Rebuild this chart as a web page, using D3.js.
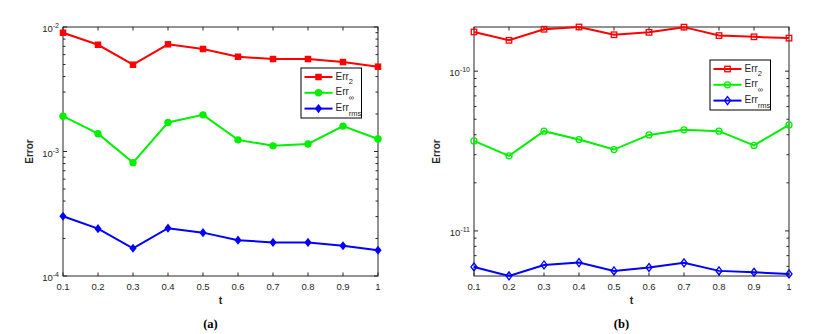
<!DOCTYPE html>
<html>
<head>
<meta charset="utf-8">
<script src="https://cdn.jsdelivr.net/npm/d3@7"></script>
<style>
  body { margin: 0; background: #fff; }
  svg { display: block; font-family: "Liberation Sans", Arial, sans-serif; }
</style>
</head>
<body>
<div id="chart"></div>
<script>
// time steps and tick labels
const tValues = [0.1, 0.2, 0.3, 0.4, 0.5, 0.6, 0.7, 0.8, 0.9, 1.0];
const xTickLabels = ["0.1", "0.2", "0.3", "0.4", "0.5", "0.6", "0.7", "0.8", "0.9", "1"];

// panel (a)
const errL2A  = [0.0090, 0.0072, 0.00498, 0.00726, 0.00666, 0.00577, 0.00553, 0.00553, 0.00523, 0.0048];
const errInfA = [0.00192, 0.00139, 0.000814, 0.00171, 0.00197, 0.00124, 0.00111, 0.00115, 0.0016, 0.00126];
const errRmsA = [0.000302, 0.00024, 0.000167, 0.000242, 0.000223, 0.000194, 0.000186, 0.000186, 0.000175, 0.000161];
const yTicksA = [1e-4, 1e-3, 1e-2];
const yTickExpA = ["-4", "-3", "-2"];

// panel (b)
const errL2B  = [1.76e-10, 1.56e-10, 1.83e-10, 1.89e-10, 1.69e-10, 1.75e-10, 1.886e-10, 1.67e-10, 1.64e-10, 1.61e-10];
const errInfB = [3.66e-11, 2.95e-11, 4.21e-11, 3.73e-11, 3.23e-11, 3.99e-11, 4.29e-11, 4.21e-11, 3.43e-11, 4.61e-11];
const errRmsB = [5.95e-12, 5.23e-12, 6.12e-12, 6.33e-12, 5.62e-12, 5.90e-12, 6.31e-12, 5.62e-12, 5.51e-12, 5.38e-12];
const yTicksB = [1e-11, 1e-10];
const yTickExpB = ["-11", "-10"];

const seriesNames = [
  { base: "Err", sub: "2" },
  { base: "Err", sub: "\u221E" },
  { base: "Err", sub: "rms" }
];
const seriesColors = ["#ff0000", "#00f000", "#0000ff"];
const seriesShapes = ["square", "circle", "diamond"];

const svgWidth = 814, svgHeight = 334;
const axisColor = "#262626";

const svg = d3.select("#chart").append("svg")
  .attr("width", svgWidth)
  .attr("height", svgHeight);

const panels = [
  { left: 63, right: 378, top: 27, bottom: 276, domain: [1e-4, 1e-2],
    majors: yTicksA, exps: yTickExpA, data: [errL2A, errInfA, errRmsA],
    filled: true, legend: { x: 301, y: 68 }, yLabelX: 33, caption: "(a)" },
  { left: 474, right: 789, top: 27, bottom: 276, domain: [5.22e-12, 1.89e-10],
    majors: yTicksB, exps: yTickExpB, data: [errL2B, errInfB, errRmsB],
    filled: false, legend: { x: 710, y: 60 }, yLabelX: 440, caption: "(b)" }
];

function drawMarker(g, shape, x, y, color, filled) {
  const sw = filled ? 0 : 1.3;
  const fill = filled ? color : "none";
  if (shape === "square") {
    const s = filled ? 6.5 : 5.5;
    g.append("rect").attr("x", x - s / 2).attr("y", y - s / 2)
      .attr("width", s).attr("height", s)
      .attr("fill", fill).attr("stroke", color).attr("stroke-width", sw);
  } else if (shape === "circle") {
    g.append("circle").attr("cx", x).attr("cy", y).attr("r", filled ? 3.7 : 3)
      .attr("fill", fill).attr("stroke", color).attr("stroke-width", sw);
  } else {
    const w = filled ? 3.6 : 3, h = filled ? 4.6 : 4;
    g.append("path")
      .attr("d", `M${x},${y - h}L${x + w},${y}L${x},${y + h}L${x - w},${y}Z`)
      .attr("fill", fill).attr("stroke", color).attr("stroke-width", sw);
  }
}

panels.forEach(p => {
  const xScale = d3.scaleLinear().domain([0.1, 1]).range([p.left, p.right]);
  const yScale = d3.scaleLog().domain(p.domain).range([p.bottom, p.top]);
  const g = svg.append("g");

  // box
  g.append("rect")
    .attr("x", p.left).attr("y", p.top)
    .attr("width", p.right - p.left).attr("height", p.bottom - p.top)
    .attr("fill", "none").attr("stroke", axisColor).attr("stroke-width", 1);

  // x ticks, inward on bottom and top
  tValues.forEach((t, i) => {
    const x = xScale(t);
    g.append("line").attr("x1", x).attr("x2", x).attr("y1", p.bottom).attr("y2", p.bottom - 3.5)
      .attr("stroke", axisColor);
    g.append("line").attr("x1", x).attr("x2", x).attr("y1", p.top).attr("y2", p.top + 3.5)
      .attr("stroke", axisColor);
    g.append("text").attr("x", x).attr("y", p.bottom + 14.3)
      .attr("text-anchor", "middle").attr("font-size", 9.5).attr("fill", axisColor)
      .text(xTickLabels[i]);
  });

  // y ticks: majors + minors
  yScale.ticks().forEach(v => {
    const y = yScale(v);
    const isMajor = Math.abs(Math.log10(v) - Math.round(Math.log10(v))) < 1e-6;
    const len = isMajor ? 4 : 2.5;
    g.append("line").attr("x1", p.left).attr("x2", p.left + len).attr("y1", y).attr("y2", y)
      .attr("stroke", axisColor);
    g.append("line").attr("x1", p.right).attr("x2", p.right - len).attr("y1", y).attr("y2", y)
      .attr("stroke", axisColor);
  });
  p.majors.forEach((v, i) => {
    const y = yScale(v);
    const txt = g.append("text").attr("x", p.left - 4).attr("y", y + 5)
      .attr("text-anchor", "end").attr("font-size", 9.5).attr("fill", axisColor);
    txt.append("tspan").text("10");
    txt.append("tspan").attr("dy", -4).attr("font-size", 7).text(p.exps[i]);
  });

  // axis labels
  g.append("text")
    .attr("transform", `translate(${p.yLabelX}, ${(p.top + p.bottom) / 2}) rotate(-90)`)
    .attr("text-anchor", "middle").attr("font-size", 10).attr("font-weight", "bold")
    .attr("fill", axisColor).text("Error");
  g.append("text")
    .attr("x", (p.left + p.right) / 2).attr("y", p.bottom + 28)
    .attr("text-anchor", "middle").attr("font-size", 10.5).attr("font-weight", "bold")
    .attr("fill", axisColor).text("t");
  g.append("text")
    .attr("x", (p.left + p.right) / 2 - 10).attr("y", p.bottom + 52)
    .attr("text-anchor", "middle").attr("font-size", 12.5).attr("font-weight", "bold")
    .attr("font-family", "'Liberation Serif', 'Times New Roman', serif")
    .text(p.caption);

  // series
  const line = d3.line().x((d, i) => xScale(tValues[i])).y(d => yScale(d));
  p.data.forEach((vals, s) => {
    g.append("path").datum(vals)
      .attr("d", line)
      .attr("fill", "none").attr("stroke", seriesColors[s]).attr("stroke-width", 2);
    vals.forEach((v, i) => drawMarker(g, seriesShapes[s], xScale(tValues[i]), yScale(v), seriesColors[s], p.filled));
  });

  // legend
  const lg = g.append("g").attr("transform", `translate(${p.legend.x}, ${p.legend.y})`);
  lg.append("rect").attr("width", 60.5).attr("height", 50)
    .attr("fill", "#fff").attr("stroke", "#000").attr("stroke-width", 1);
  seriesNames.forEach((n, s) => {
    const y = 9 + s * 15.8;
    lg.append("line").attr("x1", 3.5).attr("x2", 31.5).attr("y1", y).attr("y2", y)
      .attr("stroke", seriesColors[s]).attr("stroke-width", 2);
    drawMarker(lg, seriesShapes[s], 17.5, y, seriesColors[s], p.filled);
    const txt = lg.append("text").attr("x", 34.5).attr("y", y + 2.5)
      .attr("font-size", 10).attr("fill", axisColor);
    txt.append("tspan").text(n.base);
    txt.append("tspan").attr("dy", 4.5).attr("font-size", 7.5).text(n.sub);
  });
});
</script>
</body>
</html>
